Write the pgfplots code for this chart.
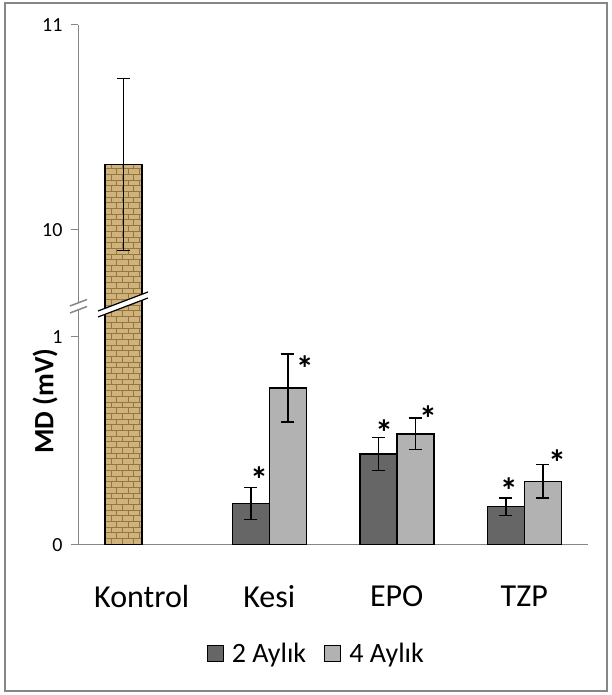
\documentclass[border=0pt]{standalone}
\usepackage{fontspec}
\setmainfont{Carlito}
\usepackage{pgfplots}
\pgfplotsset{compat=1.18}
\usetikzlibrary{patterns}
\definecolor{axgray}{RGB}{134,134,134}
\definecolor{darkbar}{RGB}{102,102,102}
\definecolor{lightbar}{RGB}{178,178,178}
\definecolor{burlap}{RGB}{206,180,124}
\definecolor{burlapdk}{RGB}{150,118,62}
\pgfplotsset{
  brk/.style={
    scale only axis, width=510pt, xmin=-0.5, xmax=3.5,
    axis line style={axgray, line width=1pt},
    tick style={axgray, line width=1pt},
    tick align=outside, major tick length=7pt,
    ticklabel style={font=\fontsize{20}{24}\selectfont, black},
    yticklabel style={xshift=-5pt},
    ybar, bar width=37pt,
    /pgf/number format/assume math mode=true,
  },
  errstyle/.style={
    /pgfplots/error bars/y dir=both, /pgfplots/error bars/y explicit,
    /pgfplots/error bars/error bar style={black, line width=1.5pt},
    /pgfplots/error bars/error mark options={black, rotate=90, mark size=6.5pt, line width=1.5pt},
  },
  sq/.style={/pgfplots/legend image code/.code={\draw[##1, line width=1pt] (0pt,-8pt) rectangle (16pt,8pt); \path (22pt,0pt);}},
}
\begin{document}
\begin{tikzpicture}
\path[use as bounding box] (0,0) rectangle (611pt,695pt);
\draw[axgray, line width=2pt] (5pt,4pt) rectangle (607pt,692pt);

% upper part of the broken axis
\begin{axis}[brk, at={(78pt,390pt)}, anchor=south west, height=280pt,
  ymin=9.634, ymax=11, ytick={10,11},
  axis y line*=left, axis x line=none, xtick=\empty]
\addplot[fill=burlap, draw=black, line width=1.5pt, bar shift=-18.5pt,
  postaction={pattern=bricks, pattern color=burlapdk}, errstyle]
  coordinates {(0,10.32) +- (0,0.42)};
\end{axis}

% lower part
\begin{axis}[brk, at={(78pt,150pt)}, anchor=south west, height=240pt,
  ymin=0, ymax=1.1538, ytick={0,1},
  axis y line*=left, axis x line*=bottom,
  xtick={0,1,2,3}, xticklabels={Kontrol,Kesi,EPO,TZP},
  xtick style={draw=none},
  xticklabel style={font=\fontsize{32}{38}\selectfont, yshift=-30pt},
  extra x ticks={-0.5,0.5,1.5,2.5,3.5}, extra x tick labels={},
  extra x tick style={major tick length=12pt, tick style={axgray, line width=1pt}},
  legend style={at={(0.467,-0.454)}, anchor=center, draw=none,
    legend columns=2, font=\fontsize{28}{34}\selectfont,
    /tikz/every even column/.append style={column sep=16pt}},
  ]
\addplot[fill=burlap, draw=black, line width=1.5pt, bar shift=-18.5pt,
  postaction={pattern=bricks, pattern color=burlapdk}, forget plot]
  coordinates {(0,10.32)};
\addplot[fill=darkbar, draw=black, line width=1.5pt, bar shift=-18.5pt, errstyle, sq]
  coordinates {(1,0.200) +- (0,0.077) (2,0.437) +- (0,0.080) (3,0.184) +- (0,0.042)};
\addlegendentry{2 Aylık}
\addplot[fill=lightbar, draw=black, line width=1.5pt, bar shift=18.5pt, errstyle, sq]
  coordinates {(1,0.755) +- (0,0.163) (2,0.534) +- (0,0.076) (3,0.306) +- (0,0.080)};
\addlegendentry{4 Aylık}
\begin{scope}[every node/.style={font=\fontsize{36}{40}\selectfont\bfseries, inner sep=0pt, yshift=-7pt}]
\node at (axis cs:0.92,0.346) {*};
\node at (axis cs:1.28,0.880) {*};
\node at (axis cs:1.90,0.572) {*};
\node at (axis cs:2.245,0.639) {*};
\node at (axis cs:2.88,0.293) {*};
\node at (axis cs:3.257,0.428) {*};
\end{scope}
\end{axis}

% axis break marks
\fill[white] (70pt,389pt) -- (87pt,395.5pt) -- (87pt,388.5pt) -- (70pt,382pt) -- cycle;
\draw[axgray, line width=1.5pt] (70pt,389pt) -- (87pt,395.5pt);
\draw[axgray, line width=1.5pt] (70pt,382pt) -- (87pt,388.5pt);
% bar break
\fill[white] (98pt,384pt) -- (148pt,403pt) -- (148pt,397pt) -- (98pt,378pt) -- cycle;
\draw[black, line width=1.2pt] (98pt,384pt) -- (148pt,403pt);
\draw[black, line width=1.2pt] (98pt,378pt) -- (148pt,397pt);

\node[rotate=90, font=\bfseries\fontsize{28}{32}\selectfont] at (45pt,294pt) {MD (mV)};
\end{tikzpicture}
\end{document}
